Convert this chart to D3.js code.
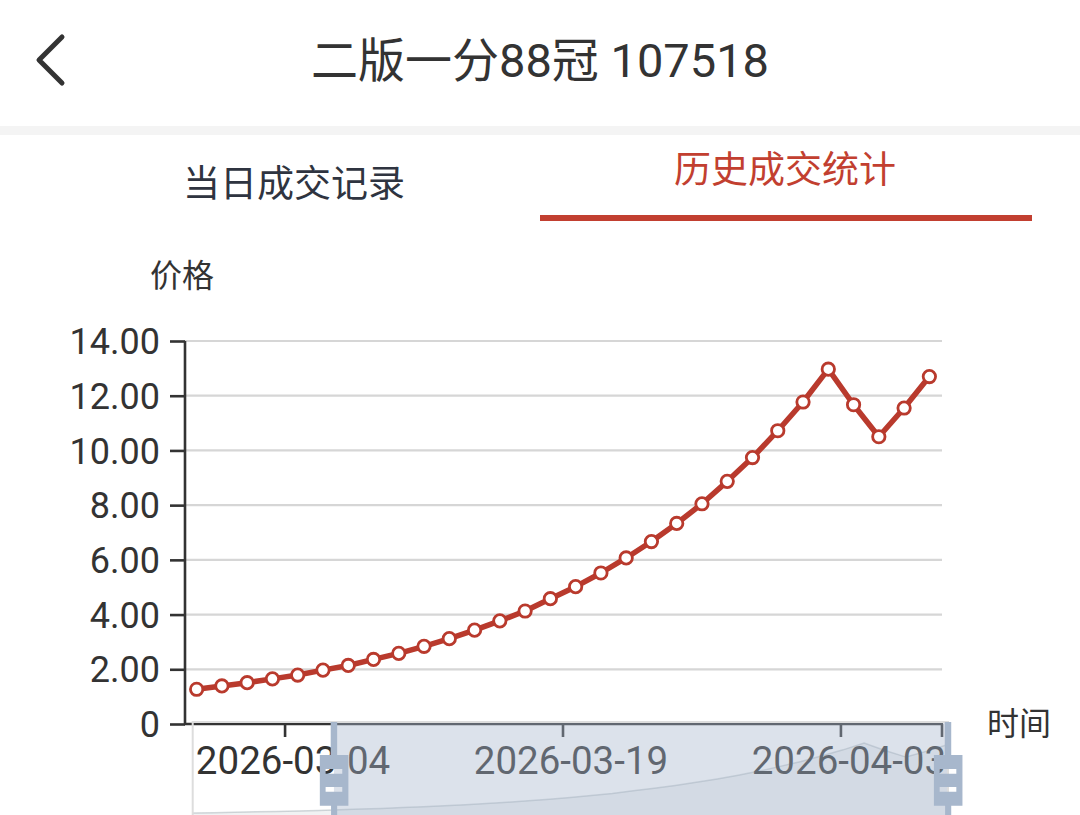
<!DOCTYPE html>
<html>
<head>
<meta charset="utf-8">
<script src="https://cdn.jsdelivr.net/npm/d3@7"></script>
<style>
  html, body { margin: 0; padding: 0; background: #fff; overflow: hidden; }
  svg { display: block; }
</style>
</head>
<body>
<svg id="chart" width="1080" height="815"></svg>
<script>
// ---------- data ----------
const titleText = "二版一分88冠 107518";
const tabLabels = ["当日成交记录", "历史成交统计"];
const yAxisName = "价格";
const xAxisName = "时间";

// full category list (trading days); the chart window shows the last 30
const dates = [
  "2026-02-17","2026-02-18","2026-02-19","2026-02-20","2026-02-23","2026-02-24","2026-02-25",
  "2026-02-26","2026-02-27","2026-03-02","2026-03-03","2026-03-04","2026-03-05","2026-03-06",
  "2026-03-09","2026-03-10","2026-03-11","2026-03-12","2026-03-13","2026-03-16","2026-03-17",
  "2026-03-18","2026-03-19","2026-03-20","2026-03-23","2026-03-24","2026-03-25","2026-03-26",
  "2026-03-27","2026-03-30","2026-03-31","2026-04-01","2026-04-02","2026-04-03","2026-04-06",
  "2026-04-07","2026-04-08"
];
const prices = [
  0.70, 0.76, 0.83, 0.90, 0.98, 1.07, 1.16,
  1.27, 1.39, 1.51, 1.65, 1.79, 1.97, 2.14,
  2.36, 2.58, 2.84, 3.12, 3.43, 3.77, 4.13,
  4.58, 5.02, 5.52, 6.07, 6.67, 7.33, 8.05,
  8.87, 9.74, 10.72, 11.77, 12.97, 11.67, 10.50,
  11.55, 12.70
];
const yTicks = [0, 2, 4, 6, 8, 10, 12, 14];
const labelInterval = 11;          // label every 11th category of the full list
const visibleStart = 7;            // first category index inside the zoom window
const zoomStartPct = 18.7;         // dataZoom window start (percent)
const zoomEndPct = 100;            // dataZoom window end (percent)

// ---------- styles ----------
const RED = "#b93a2d";
const TAB_RED = "#c23f30";
const TEXT = "#333";
const NUM_FONT = "Roboto, 'Noto Sans CJK SC', sans-serif";
const CJK_FONT = "'Noto Sans CJK SC', sans-serif";

const svg = d3.select("#chart");

// ---------- header ----------
svg.append("path")
  .attr("d", d3.line()([[62, 37], [39, 60], [62, 83]]))
  .attr("fill", "none").attr("stroke", TEXT).attr("stroke-width", 5)
  .attr("stroke-linecap", "round").attr("stroke-linejoin", "round");

svg.append("text").text(titleText)
  .attr("x", 540).attr("y", 77).attr("text-anchor", "middle")
  .attr("font-family", NUM_FONT).attr("font-size", 47).attr("fill", TEXT);

svg.append("rect").attr("x", 0).attr("y", 126).attr("width", 1080).attr("height", 9).attr("fill", "#f4f4f4");

svg.append("text").text(tabLabels[0])
  .attr("x", 294).attr("y", 197).attr("text-anchor", "middle")
  .attr("font-family", CJK_FONT).attr("font-size", 37).attr("fill", "#2f3440");
svg.append("text").text(tabLabels[1])
  .attr("x", 785).attr("y", 183).attr("text-anchor", "middle")
  .attr("font-family", CJK_FONT).attr("font-size", 37).attr("fill", TAB_RED);
svg.append("rect").attr("x", 540).attr("y", 215).attr("width", 492).attr("height", 6).attr("fill", TAB_RED);

// ---------- chart ----------
const grid = { left: 184, right: 942, top: 341, bottom: 724 };
const visDates = dates.slice(visibleStart);
const visPrices = prices.slice(visibleStart);

const x = d3.scaleBand().domain(visDates).range([grid.left, grid.right]).padding(0);
const xc = d => x(d) + x.bandwidth() / 2;
const y = d3.scaleLinear().domain([0, 14]).range([grid.bottom, grid.top]);

// gridlines
svg.append("g").selectAll("line").data(yTicks.filter(d => d > 0)).join("line")
  .attr("x1", grid.left).attr("x2", grid.right)
  .attr("y1", d => y(d)).attr("y2", d => y(d))
  .attr("stroke", "#d6d6d6").attr("stroke-width", 2.2);

// y axis
const yAxis = svg.append("g").attr("transform", `translate(${grid.left + 1},0)`)
  .call(d3.axisLeft(y).tickValues(yTicks).tickSize(15).tickPadding(10)
    .tickFormat(d => d === 0 ? "0" : d.toFixed(2)));
yAxis.select(".domain").attr("stroke", "#333").attr("stroke-width", 2.6)
  .attr("d", `M0,${grid.top}V${grid.bottom}`);
yAxis.selectAll(".tick line").attr("stroke", "#333").attr("stroke-width", 2.6);
yAxis.selectAll(".tick text").attr("font-family", NUM_FONT).attr("font-size", 36)
  .attr("fill", TEXT).attr("dy", "0.35em");

// x axis (ticks at left band boundary of labelled categories)
const labelled = visDates.filter(d => dates.indexOf(d) % labelInterval === 0);
const xAxisG = svg.append("g");
xAxisG.append("line").attr("x1", grid.left).attr("x2", grid.right + 1)
  .attr("y1", grid.bottom).attr("y2", grid.bottom)
  .attr("stroke", "#333").attr("stroke-width", 2.6);
xAxisG.selectAll("line.tk").data(labelled.map(d => x(d)).concat([grid.right])).join("line")
  .attr("class", "tk")
  .attr("x1", d => d).attr("x2", d => d)
  .attr("y1", grid.bottom).attr("y2", grid.bottom + 13)
  .attr("stroke", "#333").attr("stroke-width", 2.6);
xAxisG.selectAll("text").data(labelled).join("text")
  .attr("x", d => x(d) + 8).attr("y", 774).attr("text-anchor", "middle")
  .attr("font-family", NUM_FONT).attr("font-size", 38.5).attr("fill", TEXT)
  .text(d => d);

// axis names
svg.append("text").text(yAxisName).attr("x", 150).attr("y", 287)
  .attr("font-family", CJK_FONT).attr("font-size", 32).attr("fill", TEXT);
svg.append("text").text(xAxisName).attr("x", 987).attr("y", 735)
  .attr("font-family", CJK_FONT).attr("font-size", 32).attr("fill", TEXT);

// series line
svg.append("path").datum(visDates.map((d, i) => [xc(d), y(visPrices[i])]))
  .attr("d", d3.line())
  .attr("fill", "none").attr("stroke", RED).attr("stroke-width", 5.5)
  .attr("stroke-linejoin", "round");
svg.append("g").selectAll("circle").data(visDates).join("circle")
  .attr("cx", d => xc(d)).attr("cy", (d, i) => y(visPrices[i]))
  .attr("r", 6.2).attr("fill", "#fff").attr("stroke", RED).attr("stroke-width", 2.8);

// ---------- dataZoom slider ----------
const sl = { left: 192.7, right: 948, top: 722, height: 112 };
const sx = d3.scalePoint().domain(dates).range([sl.left, sl.right]);
const ext = d3.extent(prices);
const off = (ext[1] - ext[0]) * 0.3;
const sy = d3.scaleLinear().domain([ext[0] - off, ext[1] + off]).range([sl.top + sl.height, sl.top]);
const pct = d3.scaleLinear().domain([0, 100]).range([sl.left, sl.right]);

const sg = svg.append("g");
// data shadow
sg.append("path").datum(dates)
  .attr("d", d3.area().x(d => sx(d)).y0(sl.top + sl.height).y1((d, i) => sy(prices[i])))
  .attr("fill", "rgba(47,69,84,0.07)");
sg.append("path").datum(dates)
  .attr("d", d3.line().x(d => sx(d)).y((d, i) => sy(prices[i])))
  .attr("fill", "none").attr("stroke", "rgba(47,69,84,0.2)").attr("stroke-width", 1.5);
// filler
const x0 = pct(zoomStartPct), x1 = pct(zoomEndPct);
sg.append("rect").attr("x", x0).attr("y", sl.top).attr("width", x1 - x0).attr("height", sl.height)
  .attr("fill", "rgba(167,183,204,0.4)");
// border
sg.append("rect").attr("x", sl.left).attr("y", sl.top).attr("width", sl.right - sl.left).attr("height", sl.height)
  .attr("fill", "none").attr("stroke", "#ddd").attr("stroke-width", 2);
// handles (echarts default handle icon)
const handleIcon = "M8.2,13.6V3.9H6.3v9.7H3.1v14.9h3.3v9.7h1.8v-9.7h3.3V13.6H8.2z M9.7,24.4H4.8v-1.4h4.9V24.4z M9.7,19.1H4.8v-1.4h4.9V19.1z";
const hs = 3.4;
[x0, x1].forEach(cx => {
  sg.append("path").attr("d", handleIcon)
    .attr("transform", `translate(${cx - 7.25 * hs},${sl.top - 3.9 * hs}) scale(${hs})`)
    .attr("fill", "#a7b7cc");
});
</script>
</body>
</html>
